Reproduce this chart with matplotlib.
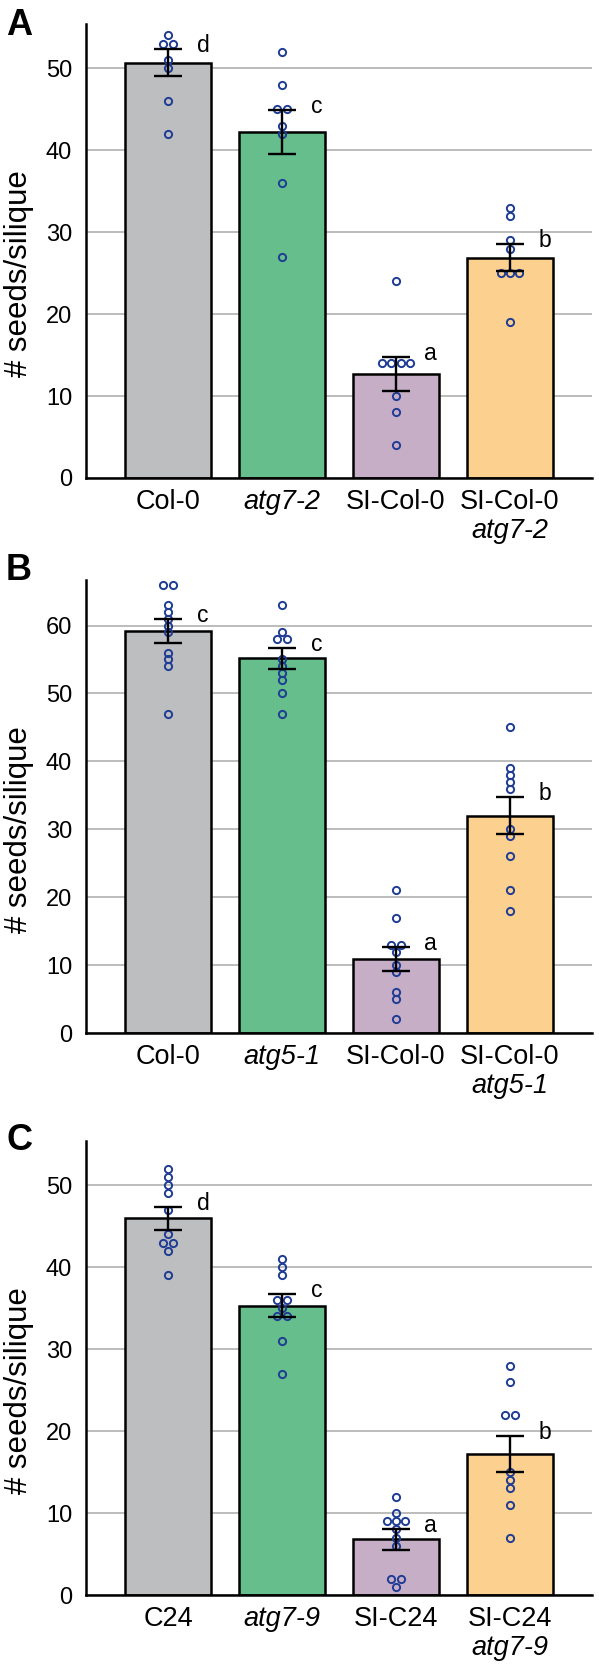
import numpy as np
import matplotlib.pyplot as plt

plt.rcParams['font.family'] = ['Liberation Sans', 'DejaVu Sans']

# ---- data ----
labels_a = ["Col-0", "atg7-2", "SI-Col-0", "SI-Col-0\natg7-2"]
means_a = [50.7, 42.2, 12.7, 26.9]
sem_a = [1.7, 2.7, 2.1, 1.6]
letters_a = ["d", "c", "a", "b"]
points_a = [
    [54, 53, 53, 51, 50, 46, 42],
    [52, 48, 45, 45, 43, 42, 36, 27],
    [24, 14, 14, 14, 14, 10, 8, 4],
    [33, 32, 29, 28, 25, 25, 25, 19],
]

labels_b = ["Col-0", "atg5-1", "SI-Col-0", "SI-Col-0\natg5-1"]
means_b = [59.2, 55.2, 10.9, 32.0]
sem_b = [1.8, 1.55, 1.8, 2.7]
letters_b = ["c", "c", "a", "b"]
points_b = [
    [66, 66, 63, 62, 61, 60, 59, 56, 55, 54, 47],
    [63, 59, 58, 58, 55, 54, 53, 52, 50, 47],
    [21, 17, 13, 13, 12, 10, 9, 6, 5, 2],
    [45, 39, 38, 37, 36, 30, 29, 26, 21, 18],
]

labels_c = ["C24", "atg7-9", "SI-C24", "SI-C24\natg7-9"]
means_c = [46.0, 35.3, 6.8, 17.2]
sem_c = [1.4, 1.4, 1.25, 2.2]
letters_c = ["d", "c", "a", "b"]
points_c = [
    [52, 51, 50, 49, 47, 44, 43, 43, 42, 39],
    [41, 40, 39, 36, 36, 35, 34, 34, 31, 27],
    [12, 10, 9, 9, 9, 8, 7, 6, 2, 2, 1],
    [28, 26, 22, 22, 15, 14, 13, 11, 7],
]

colors = ["#bdbec0", "#66be8c", "#c6aec6", "#fcd08e"]
dot_color = "#1f3c94"


def spread(vals, step=0.08):
    # side-by-side offsets for equal values
    xs = np.zeros(len(vals))
    vals = np.asarray(vals)
    for v in np.unique(vals):
        idx = np.where(vals == v)[0]
        n = len(idx)
        xs[idx] = (np.arange(n) - (n - 1) / 2) * step
    return xs


def draw_panel(ax, labels, means, sems, points, letters, ymax, yticks):
    x = np.arange(len(means))
    ax.set_xlim(-0.72, 3.72)
    ax.set_ylim(0, ymax)
    ax.set_yticks(yticks)
    ax.yaxis.grid(True, color="#b0b0b0", linewidth=1.2)
    ax.set_axisbelow(True)
    ax.bar(x, means, width=0.76, color=colors, edgecolor="black",
           linewidth=1.8, zorder=2)
    for i in x:
        px = i + spread(points[i])
        ax.plot(px, points[i], "o", mfc="none", mec=dot_color, ms=5.2,
                mew=1.4, zorder=3, clip_on=False)
        ax.errorbar(i, means[i], yerr=sems[i], color="black", capsize=10,
                    capthick=1.7, elinewidth=1.7, zorder=4)
        ax.annotate(letters[i], (i + 0.25, means[i] + sems[i]),
                    xytext=(0, 2.5), textcoords="offset points",
                    fontsize=16.5, ha="left", va="center")
    for s in ["top", "right"]:
        ax.spines[s].set_visible(False)
    ax.spines["left"].set_linewidth(1.8)
    ax.spines["bottom"].set_linewidth(1.8)
    ax.tick_params(axis="y", length=0, labelsize=17, pad=10)
    ax.set_xticks([])
    for i, lab in enumerate(labels):
        parts = lab.split("\n")
        style = "italic" if i == 1 else "normal"
        ax.annotate(parts[0], (i, 0), xycoords=("data", "axes fraction"),
                    xytext=(0, -17), textcoords="offset points",
                    ha="center", va="center", fontsize=19.5, style=style)
        if len(parts) > 1:
            ax.annotate(parts[1], (i, 0), xycoords=("data", "axes fraction"),
                        xytext=(0, -38), textcoords="offset points",
                        ha="center", va="center", fontsize=19.5,
                        style="italic")
    # y label centred on the tick range
    ax.annotate("# seeds/silique", (19, (yticks[0] + yticks[-1]) / 2),
                xycoords=("figure pixels", "data"), fontsize=22.5,
                rotation=90, ha="center", va="center",
                annotation_clip=False)


fig = plt.figure(figsize=(5.99, 16.72), dpi=100)
W, H = 599, 1672


def rect(top, bottom, left=86, right=592):
    return [left / W, 1 - bottom / H, (right - left) / W, (bottom - top) / H]


ax_a = fig.add_axes(rect(24, 478))
ax_b = fig.add_axes(rect(580, 1033))
ax_c = fig.add_axes(rect(1141, 1595))

draw_panel(ax_a, labels_a, means_a, sem_a, points_a, letters_a, 55.4,
           list(range(0, 51, 10)))
draw_panel(ax_b, labels_b, means_b, sem_b, points_b, letters_b, 66.7,
           list(range(0, 61, 10)))
draw_panel(ax_c, labels_c, means_c, sem_c, points_c, letters_c, 55.4,
           list(range(0, 51, 10)))

# panel tags
for tag, tag_top in [("A", 8), ("B", 553), ("C", 1123)]:
    fig.text(6 / W, 1 - tag_top / H, tag, fontsize=26, fontweight="bold",
             ha="left", va="top")

fig.savefig("out.png", dpi=100)
